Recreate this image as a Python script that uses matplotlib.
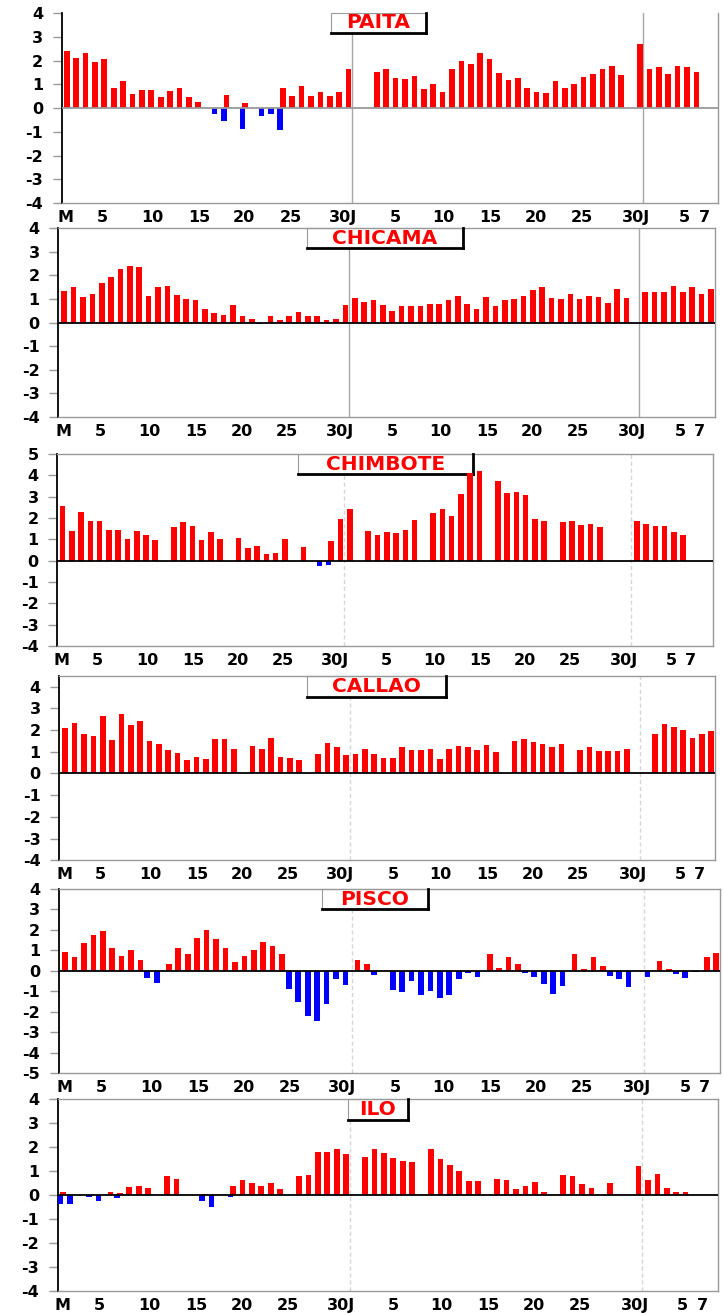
import numpy as np
import matplotlib
matplotlib.use("Agg")
import matplotlib.pyplot as plt
from matplotlib.patches import Rectangle
from matplotlib.lines import Line2D

W, H = 723, 1314
_ = None

# day index 0 = 1 May ... 30 = 31 May, 31 = 1 Jun ... 60 = 30 Jun, 61 = 1 Jul ...
paita_red = [2.42, 2.13, 2.34, 1.93, 2.07, 0.83, 1.14, 0.61, 0.76, 0.76,
             0.46, 0.73, 0.83, 0.46, 0.25, _, _, 0.56, _, 0.20,
             _, _, _, 0.86, 0.52, 0.93, 0.52, 0.69, 0.52, 0.69,
             1.63, _, _, 1.54, 1.66, 1.27, 1.23, 1.35, 0.79, 1.03,
             0.70, 1.63, 2.00, 1.87, 2.34, 2.07, 1.48, 1.17, 1.27, 0.83,
             0.69, 0.63, 1.14, 0.83, 1.00, 1.31, 1.44, 1.63, 1.77, 1.39,
             _, 2.69, 1.63, 1.73, 1.44, 1.77, 1.73, 1.51, _, _]
paita_blue = [_] * 16 + [-0.23, -0.55, _, -0.87, _, -0.32, -0.25, -0.92] + [_] * 46

chicama_red = [1.34, 1.53, 1.09, 1.23, 1.68, 1.95, 2.29, 2.39, 2.35, 1.12,
               1.53, 1.55, 1.19, 1.02, 0.95, 0.58, 0.41, 0.34, 0.75, 0.30,
               0.14, _, 0.30, 0.10, 0.30, 0.45, 0.27, 0.30, 0.10, 0.14,
               0.73, 1.05, 0.89, 0.95, 0.75, 0.51, 0.69, 0.69, 0.69, 0.79,
               0.79, 0.95, 1.12, 0.79, 0.58, 1.09, 0.69, 0.95, 1.02, 1.12,
               1.39, 1.50, 1.06, 1.02, 1.22, 1.02, 1.12, 1.10, 0.85, 1.44,
               1.06, _, 1.29, 1.31, 1.31, 1.55, 1.29, 1.53, 1.22, 1.44]
chicama_blue = [_] * 21 + [-0.05] + [_] * 48

chimbote_red = [2.55, 1.41, 2.30, 1.88, 1.88, 1.44, 1.44, 1.02, 1.38, 1.20,
                0.97, _, 1.58, 1.81, 1.64, 0.97, 1.34, 1.02, _, 1.08,
                0.58, 0.67, 0.33, 0.38, 1.02, _, 0.64, _, _, 0.92,
                1.97, 2.43, _, 1.41, 1.22, 1.36, 1.30, 1.42, 1.92, _,
                2.25, 2.44, 2.08, 3.13, 4.10, 4.19, _, 3.75, 3.19, 3.22,
                3.09, 1.95, 1.88, _, 1.83, 1.88, 1.66, 1.73, 1.58, _,
                _, _, 1.84, 1.70, 1.64, 1.61, 1.36, 1.19, _, _]
chimbote_blue = [_] * 28 + [-0.27, -0.20] + [_] * 40

callao_red = [2.09, 2.32, 1.81, 1.71, 2.67, 1.52, 2.75, 2.21, 2.40, 1.49,
              1.38, 1.06, 0.92, 0.60, 0.75, 0.65, 1.61, 1.58, 1.11, _,
              1.27, 1.15, 1.64, 0.78, 0.69, 0.61, _, 0.88, 1.41, 1.20,
              0.84, 0.88, 1.11, 0.91, 0.72, 0.69, 1.20, 1.06, 1.06, 1.11,
              0.66, 1.15, 1.27, 1.20, 1.06, 1.29, 0.97, _, 1.49, 1.61,
              1.44, 1.38, 1.20, 1.35, _, 1.09, 1.20, 1.03, 1.03, 1.03,
              1.11, _, _, 1.81, 2.27, 2.12, 1.98, 1.64, 1.81, 1.95]
callao_blue = [_] * 70

pisco_red = [0.93, 0.65, 1.34, 1.75, 1.97, 1.13, 0.72, 1.01, 0.51, _,
             _, 0.33, 1.13, 0.83, 1.60, 1.99, 1.55, 1.13, 0.41, 0.72,
             1.01, 1.39, 1.22, 0.83, _, _, _, _, _, _,
             _, 0.51, 0.31, _, _, _, _, _, _, _,
             _, _, _, _, _, 0.82, 0.13, 0.65, 0.31, _,
             _, _, _, _, 0.82, 0.10, 0.65, 0.24, _, _,
             _, _, _, 0.47, 0.11, _, _, _, 0.67, 0.86]
pisco_blue = [_, _, _, _, _, _, _, _, _, -0.33,
              -0.62, _, _, _, _, _, _, _, _, _,
              _, _, _, _, -0.91, -1.52, -2.22, -2.48, -1.62, -0.42,
              -0.72, _, _, -0.20, _, -0.93, -1.06, -0.52, -1.19, -1.00,
              -1.32, -1.17, -0.42, -0.10, -0.29, _, _, _, _, -0.10,
              -0.29, -0.65, -1.14, -0.75, _, _, _, _, -0.26, -0.42,
              -0.80, _, -0.29, _, _, -0.16, -0.34, -0.07, _, _]

ilo_red = [0.15, _, _, _, _, 0.15, 0.10, 0.35, 0.38, 0.32,
           _, 0.81, 0.68, _, _, 0.04, _, _, 0.40, 0.64,
           0.53, 0.39, 0.53, 0.25, _, 0.79, 0.85, 1.79, 1.79, 1.92,
           1.72, _, 1.61, 1.93, 1.75, 1.54, 1.44, 1.39, _, 1.94,
           1.51, 1.25, 1.00, 0.61, 0.60, _, 0.68, 0.64, 0.25, 0.40,
           0.56, 0.15, _, 0.83, 0.79, 0.47, 0.32, _, 0.53, _,
           _, 1.24, 0.64, 0.88, 0.32, 0.15, 0.13, _, _, _]
ilo_blue = [-0.38, -0.38, _, -0.05, -0.25, _, -0.10, _, _, _,
            _, _, _, _, _, -0.25, -0.49, _, -0.05] + [_] * 51

stations = ["PAITA", "CHICAMA", "CHIMBOTE", "CALLAO", "PISCO", "ILO"]
red_data = [paita_red, chicama_red, chimbote_red, callao_red, pisco_red, ilo_red]
blue_data = [paita_blue, chicama_blue, chimbote_blue, callao_blue, pisco_blue, ilo_blue]

xlabels = ["M", "5", "10", "15", "20", "25", "30J", "5", "10", "15", "20", "25", "30J", "5", "7"]
xlabel_pos = [-0.1, 3.8, 9.1, 14.1, 18.9, 23.8, 29.4, 35.0, 40.1, 45.1, 49.9, 54.8, 60.6, 65.7, 67.8]

# layout in pixels: axes box (left, top, right, bottom), x limits, y limits, title box
panel_px = [(61.7, 13.3, 718, 203), (58.3, 228.3, 715, 417), (57.3, 454, 713.3, 646),
            (59.3, 676, 715, 860.3), (58.7, 889, 720, 1073), (57.7, 1099.3, 717.7, 1291.3)]
xlims = [(-0.53, 69.29), (-0.64, 69.44), (-0.58, 70.26), (-0.64, 69.41), (-0.67, 69.4), (-0.59, 69.4)]
ylims = [(-4, 4), (-4, 4), (-4, 5), (-4, 4.49), (-5, 4), (-4, 4)]
title_px = [(331, 13, 426, 33), (306.7, 228.3, 463.3, 248.3), (297.7, 454, 473.3, 474),
            (307, 676, 446, 696.7), (322.3, 889, 427.7, 909.3), (347.7, 1099.3, 407.7, 1120)]

plt.rcParams["font.family"] = "DejaVu Sans"
plt.rcParams["font.weight"] = "bold"
plt.rcParams["axes.unicode_minus"] = False

fig = plt.figure(figsize=(W / 100, H / 100), dpi=100)


def fx(x):
    return x / W


def fy(y):
    return 1 - y / H


days = np.arange(70)
for k, name in enumerate(stations):
    l, t, r, b = panel_px[k]
    ax = fig.add_axes([fx(l), fy(b), fx(r - l), (b - t) / H])
    ax.set_xlim(*xlims[k])
    ax.set_ylim(*ylims[k])

    red = np.array(red_data[k], dtype=float)
    blue = np.array(blue_data[k], dtype=float)
    m = ~np.isnan(red)
    ax.bar(days[m], red[m], width=0.6, color="#ff0000", zorder=3)
    m = ~np.isnan(blue)
    ax.bar(days[m] - 0.28, blue[m], width=0.6, color="#0000ff", zorder=3)

    # month separators
    if k < 2:
        for xv in (30.4, 61.35):
            ax.axvline(xv, color="#a8a8a8", lw=1, zorder=1)
    else:
        for xv in (30.4, 61.35):
            ax.axvline(xv, color="#d6d6d6", lw=1, ls=(0, (3, 2)), zorder=1)

    ax.axhline(0, color="#999999" if k == 0 else "black", lw=1.3, zorder=4)

    for s in ("top", "right", "bottom"):
        ax.spines[s].set_color("#999999")
        ax.spines[s].set_linewidth(1)
    ax.spines["left"].set_color("black")
    ax.spines["left"].set_linewidth(1.3)
    if k == 0:
        ax.spines["top"].set_visible(False)

    y0, y1 = ylims[k]
    ax.set_yticks(range(int(y0), int(y1) + 1))
    ax.tick_params(axis="y", length=6.5, width=1, color="#999999", pad=7, labelsize=11.5)
    ax.set_xticks(xlabel_pos)
    ax.set_xticklabels(xlabels)
    ax.tick_params(axis="x", length=0, pad=5, labelsize=11.5)

    # station name box with shadow on right/bottom
    bl, bt, br, bb = title_px[k]
    ax.add_patch(Rectangle((fx(bl), fy(bb)), fx(br - bl), (bb - bt) / H, transform=fig.transFigure,
                           facecolor="white", edgecolor="#9a9a9a", lw=0.8, clip_on=False, zorder=2.5))
    ax.add_line(Line2D([fx(br), fx(br)], [fy(bt), fy(bb)], transform=fig.transFigure,
                       color="black", lw=2, clip_on=False, zorder=2.6))
    ax.add_line(Line2D([fx(bl), fx(br)], [fy(bb), fy(bb)], transform=fig.transFigure,
                       color="black", lw=2, clip_on=False, zorder=2.6))
    ax.text(fx((bl + br) / 2), fy((bt + bb) / 2), name, transform=fig.transFigure,
            ha="center", va="center", color="#ff0000", fontsize=14.5, fontweight="bold", zorder=5)

fig.savefig("out.png", dpi=100)
